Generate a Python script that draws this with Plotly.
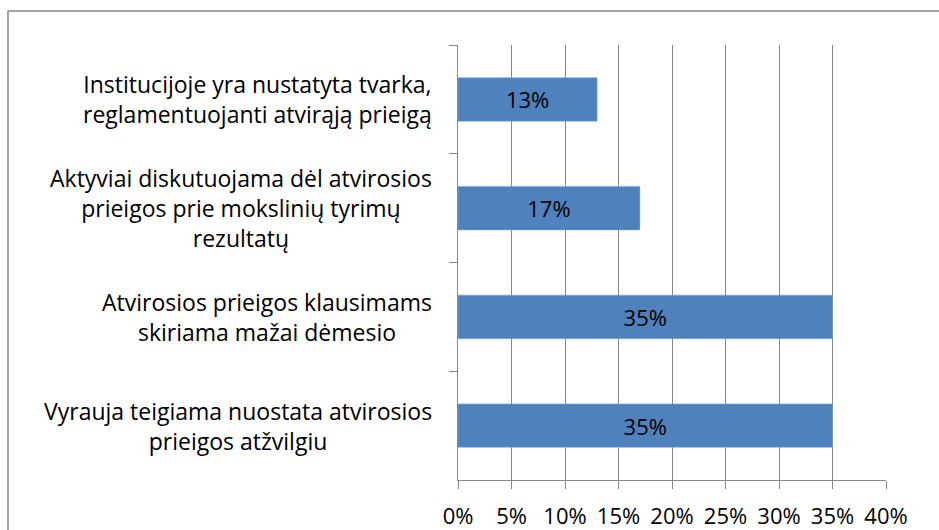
import plotly.graph_objects as go

categories = [
    "Institucijoje yra nustatyta tvarka,<br>reglamentuojanti atvirąją prieigą",
    "Aktyviai diskutuojama dėl atvirosios<br>prieigos prie mokslinių tyrimų<br>rezultatų",
    "Atvirosios prieigos klausimams<br>skiriama mažai dėmesio",
    "Vyrauja teigiama nuostata atvirosios<br>prieigos atžvilgiu",
]
values = [0.13, 0.17, 0.35, 0.35]
value_labels = ["13%", "17%", "35%", "35%"]
tick_vals = [0, 0.05, 0.10, 0.15, 0.20, 0.25, 0.30, 0.35, 0.40]
tick_text = ["0%", "5%", "10%", "15%", "20%", "25%", "30%", "35%", "40%"]

FONT = "Open Sans"
FS = 23
GRID = "#868686"
W, H = 939, 530
ML, MR, MT, MB = 458, 53, 45, 50
PW, PH = W - ML - MR, H - MT - MB

fig = go.Figure()
fig.add_trace(go.Bar(
    x=values, y=categories, orientation="h",
    marker=dict(color="#4F81BD", line=dict(color="#7FA3D1", width=0.5)),
    text=value_labels, textposition="inside", insidetextanchor="middle",
    textfont=dict(family=FONT, size=FS - 1, color="black"),
    hoverinfo="skip",
))

def px_to_paper_x(px):
    return (px - ML) / PW

def px_to_paper_y(py):
    return (H - MB - py) / PH

for cat in categories:
    fig.add_annotation(
        x=px_to_paper_x(434), xref="paper", y=cat, yref="y",
        text=cat, showarrow=False, xanchor="right", yanchor="middle",
        align="center", font=dict(family=FONT, size=FS, color="black"),
    )

fig.add_shape(
    type="rect", xref="paper", yref="paper",
    x0=px_to_paper_x(8), x1=px_to_paper_x(950),
    y0=px_to_paper_y(545), y1=px_to_paper_y(11),
    line=dict(color=GRID, width=1.5), fillcolor="rgba(0,0,0,0)", layer="below",
)

fig.update_layout(
    width=W, height=H,
    margin=dict(l=ML, r=MR, t=MT, b=MB, autoexpand=False),
    paper_bgcolor="white", plot_bgcolor="white",
    showlegend=False, bargap=0.6,
    font=dict(family=FONT, size=FS, color="black"),
    xaxis=dict(
        range=[0, 0.4], tickvals=tick_vals, ticktext=tick_text,
        showgrid=True, gridcolor=GRID, gridwidth=1,
        showline=True, linecolor=GRID, linewidth=1,
        ticks="outside", ticklen=8, tickcolor=GRID, tickwidth=1,
        ticklabelstandoff=9, automargin=False,
        tickfont=dict(family=FONT, size=FS - 1, color="black"),
        zeroline=False, fixedrange=True,
    ),
    yaxis=dict(
        autorange="reversed", showticklabels=False, automargin=False,
        showline=True, linecolor=GRID, linewidth=1,
        ticks="outside", ticklen=8, tickcolor=GRID, tickwidth=1,
        tickson="boundaries", showgrid=False, zeroline=False, fixedrange=True,
    ),
)

fig.write_html("out.html", config={"displayModeBar": False},
               post_script="document.body.style.margin='0';")
